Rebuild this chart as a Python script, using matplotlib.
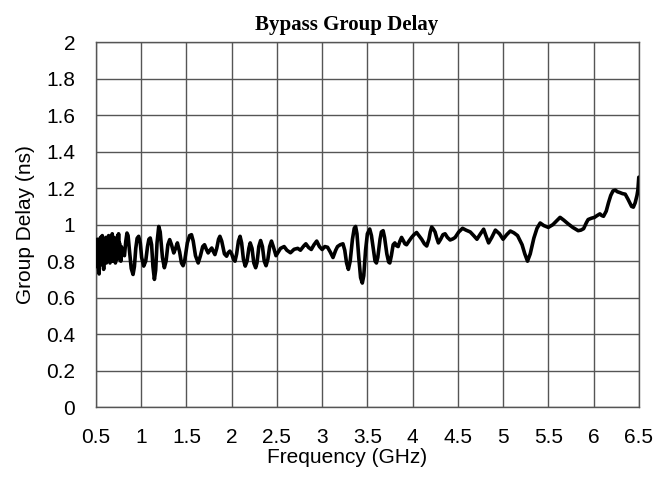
import matplotlib
matplotlib.use("Agg")
import matplotlib.pyplot as plt

# ---- data ----
freq_dense = [0.500, 0.505, 0.510, 0.515, 0.520, 0.525, 0.530, 0.535, 0.540, 0.545,
              0.550, 0.555, 0.560, 0.565, 0.570, 0.575, 0.580, 0.585, 0.590, 0.595,
              0.600, 0.605, 0.610, 0.615, 0.620, 0.625, 0.630, 0.635, 0.640, 0.645,
              0.650, 0.655, 0.660, 0.665, 0.670, 0.675, 0.680, 0.685, 0.690, 0.695,
              0.700, 0.705, 0.710, 0.715, 0.720, 0.725, 0.730, 0.735, 0.740, 0.745,
              0.750, 0.755, 0.760, 0.765, 0.770, 0.775]
delay_dense = [0.80, 0.90, 0.77, 0.92, 0.79, 0.88, 0.75, 0.73, 0.91, 0.80,
               0.93, 0.78, 0.89, 0.81, 0.94, 0.79, 0.90, 0.755, 0.92, 0.80,
               0.88, 0.82, 0.93, 0.79, 0.91, 0.81, 0.90, 0.80, 0.94, 0.82,
               0.89, 0.79, 0.92, 0.83, 0.90, 0.80, 0.95, 0.82, 0.91, 0.80,
               0.93, 0.83, 0.89, 0.79, 0.92, 0.84, 0.90, 0.81, 0.94, 0.83,
               0.95, 0.82, 0.90, 0.81, 0.88, 0.80]

freq_main = [0.78, 0.80, 0.815, 0.83, 0.843, 0.855, 0.87, 0.89, 0.91, 0.925, 0.94, 0.955,
             0.972, 0.99, 1.005, 1.028, 1.05, 1.07, 1.085, 1.10, 1.115, 1.13, 1.146, 1.16,
             1.175, 1.194, 1.21, 1.235, 1.256, 1.275, 1.295, 1.315, 1.335, 1.36, 1.38, 1.40,
             1.425, 1.445, 1.463, 1.48, 1.51, 1.535, 1.556, 1.575, 1.60, 1.63, 1.655, 1.68,
             1.70, 1.72, 1.74, 1.76, 1.78, 1.80, 1.815, 1.835, 1.855, 1.87, 1.89, 1.92,
             1.944, 1.96, 1.98, 2.00, 2.02, 2.037, 2.055, 2.075, 2.093, 2.11, 2.13, 2.15,
             2.17, 2.19, 2.205, 2.225, 2.245, 2.265, 2.28, 2.30, 2.32, 2.34, 2.36, 2.38,
             2.40, 2.42, 2.44, 2.46, 2.49,
             2.54, 2.58, 2.61, 2.65, 2.69, 2.73, 2.76, 2.80, 2.82, 2.85, 2.88, 2.91,
             2.94, 2.97, 3.00, 3.03, 3.06, 3.09, 3.12, 3.15, 3.17, 3.20, 3.23, 3.25,
             3.27, 3.29, 3.31, 3.335, 3.355, 3.37, 3.385, 3.405, 3.425, 3.444, 3.46, 3.48,
             3.50, 3.526, 3.545, 3.57, 3.585, 3.60, 3.615, 3.64, 3.655, 3.674, 3.69, 3.715,
             3.735, 3.748, 3.765, 3.785, 3.804, 3.82, 3.84, 3.86, 3.878, 3.90, 3.915, 3.933,
             3.96, 3.989, 4.015, 4.044, 4.07, 4.10, 4.13, 4.156, 4.18, 4.195, 4.211, 4.23,
             4.248, 4.265, 4.285, 4.31, 4.335, 4.359, 4.385, 4.415, 4.445, 4.47, 4.51, 4.552,
             4.59, 4.637, 4.675, 4.711, 4.75, 4.785, 4.81, 4.84, 4.875, 4.915, 4.96, 5.00,
             5.04, 5.08, 5.12, 5.16, 5.19, 5.21, 5.24, 5.27, 5.30, 5.34, 5.375, 5.41,
             5.45, 5.50, 5.55, 5.59, 5.63, 5.67, 5.72, 5.77, 5.83, 5.86, 5.89, 5.92,
             5.94, 5.975, 6.01, 6.04, 6.07, 6.09, 6.11, 6.14, 6.165, 6.19, 6.215, 6.24,
             6.265, 6.29, 6.32, 6.35, 6.38, 6.40, 6.42, 6.44, 6.46, 6.48, 6.49, 6.50]
delay_main = [0.88, 0.84, 0.83, 0.91, 0.954, 0.94, 0.86, 0.76, 0.727, 0.77, 0.87, 0.925,
              0.936, 0.90, 0.82, 0.773, 0.80, 0.88, 0.92, 0.927, 0.89, 0.77, 0.70, 0.75,
              0.90, 0.99, 0.96, 0.82, 0.764, 0.80, 0.89, 0.918, 0.89, 0.845, 0.87, 0.90,
              0.85, 0.79, 0.775, 0.80, 0.90, 0.94, 0.945, 0.91, 0.83, 0.79, 0.83, 0.88,
              0.89, 0.865, 0.845, 0.86, 0.872, 0.85, 0.836, 0.87, 0.92, 0.936, 0.91, 0.84,
              0.827, 0.845, 0.855, 0.84, 0.81, 0.80, 0.84, 0.91, 0.936, 0.90, 0.81, 0.773,
              0.80, 0.87, 0.90, 0.87, 0.79, 0.764, 0.79, 0.88, 0.913, 0.88, 0.80, 0.775,
              0.81, 0.88, 0.91, 0.88, 0.83,
              0.87, 0.88, 0.86, 0.846, 0.865, 0.87, 0.86, 0.885, 0.895, 0.875, 0.864, 0.89,
              0.91, 0.88, 0.864, 0.88, 0.876, 0.85, 0.82, 0.86, 0.88, 0.89, 0.895, 0.86,
              0.79, 0.755, 0.80, 0.92, 0.98, 0.99, 0.95, 0.82, 0.71, 0.68, 0.72, 0.86,
              0.95, 0.976, 0.94, 0.85, 0.80, 0.79, 0.82, 0.92, 0.96, 0.967, 0.93, 0.84,
              0.795, 0.79, 0.83, 0.89, 0.90, 0.885, 0.88, 0.91, 0.93, 0.91, 0.895, 0.89,
              0.91, 0.93, 0.945, 0.957, 0.94, 0.92, 0.895, 0.883, 0.92, 0.96, 0.987, 0.975,
              0.96, 0.93, 0.90, 0.92, 0.945, 0.95, 0.93, 0.916, 0.922, 0.93, 0.96, 0.98,
              0.97, 0.96, 0.94, 0.92, 0.95, 0.975, 0.94, 0.90, 0.93, 0.97, 0.95, 0.92,
              0.945, 0.965, 0.955, 0.94, 0.91, 0.89, 0.84, 0.80, 0.84, 0.926, 0.98, 1.009,
              0.995, 0.985, 1.00, 1.02, 1.04, 1.025, 1.004, 0.985, 0.967, 0.97, 0.978, 1.01,
              1.028, 1.035, 1.04, 1.05, 1.059, 1.05, 1.046, 1.074, 1.12, 1.16, 1.185, 1.189,
              1.18, 1.176, 1.17, 1.167, 1.14, 1.12, 1.10, 1.096, 1.12, 1.16, 1.19, 1.26]

freq = freq_dense + freq_main
delay = delay_dense + delay_main

x_ticks = [0.5, 1, 1.5, 2, 2.5, 3, 3.5, 4, 4.5, 5, 5.5, 6, 6.5]
x_labels = ["0.5", "1", "1.5", "2", "2.5", "3", "3.5", "4", "4.5", "5", "5.5", "6", "6.5"]
y_ticks = [0, 0.2, 0.4, 0.6, 0.8, 1.0, 1.2, 1.4, 1.6, 1.8, 2.0]
y_labels = ["0", "0.2", "0.4", "0.6", "0.8", "1", "1.2", "1.4", "1.6", "1.8", "2"]

title = "Bypass Group Delay"
xlabel = "Frequency (GHz)"
ylabel = "Group Delay (ns)"

# ---- figure ----
plt.rcParams['font.family'] = ['Liberation Sans', 'DejaVu Sans']
fig = plt.figure(figsize=(6.71, 4.79), dpi=100)
ax = fig.add_axes([0.143, 0.150, 0.809, 0.762])

grid_col = '#555555'
ax.plot(freq, delay, color='black', linewidth=2.6, solid_joinstyle='round',
        solid_capstyle='round', zorder=3)

ax.set_xlim(0.5, 6.5)
ax.set_ylim(0, 2)
ax.set_xticks(x_ticks)
ax.set_xticklabels(x_labels)
ax.set_yticks(y_ticks)
ax.set_yticklabels(y_labels)
ax.tick_params(axis='both', length=0, labelsize=15, colors='black')
ax.tick_params(axis='x', pad=15)
ax.tick_params(axis='y', pad=15)
ax.grid(True, color=grid_col, linewidth=1.0)
for s in ax.spines.values():
    s.set_color(grid_col)
    s.set_linewidth(1.0)

ax.set_xlabel(xlabel, fontsize=15)
ax.xaxis.set_label_coords(0.463, -0.137, transform=ax.transAxes)
ax.xaxis.label.set_verticalalignment('center')
ax.set_ylabel(ylabel, fontsize=15, labelpad=8)
fig.text(0.517, 0.948, title, fontsize=15, fontweight='bold',
         family=['Liberation Serif'], ha='center', va='center')

fig.savefig("out.png", dpi=100)
